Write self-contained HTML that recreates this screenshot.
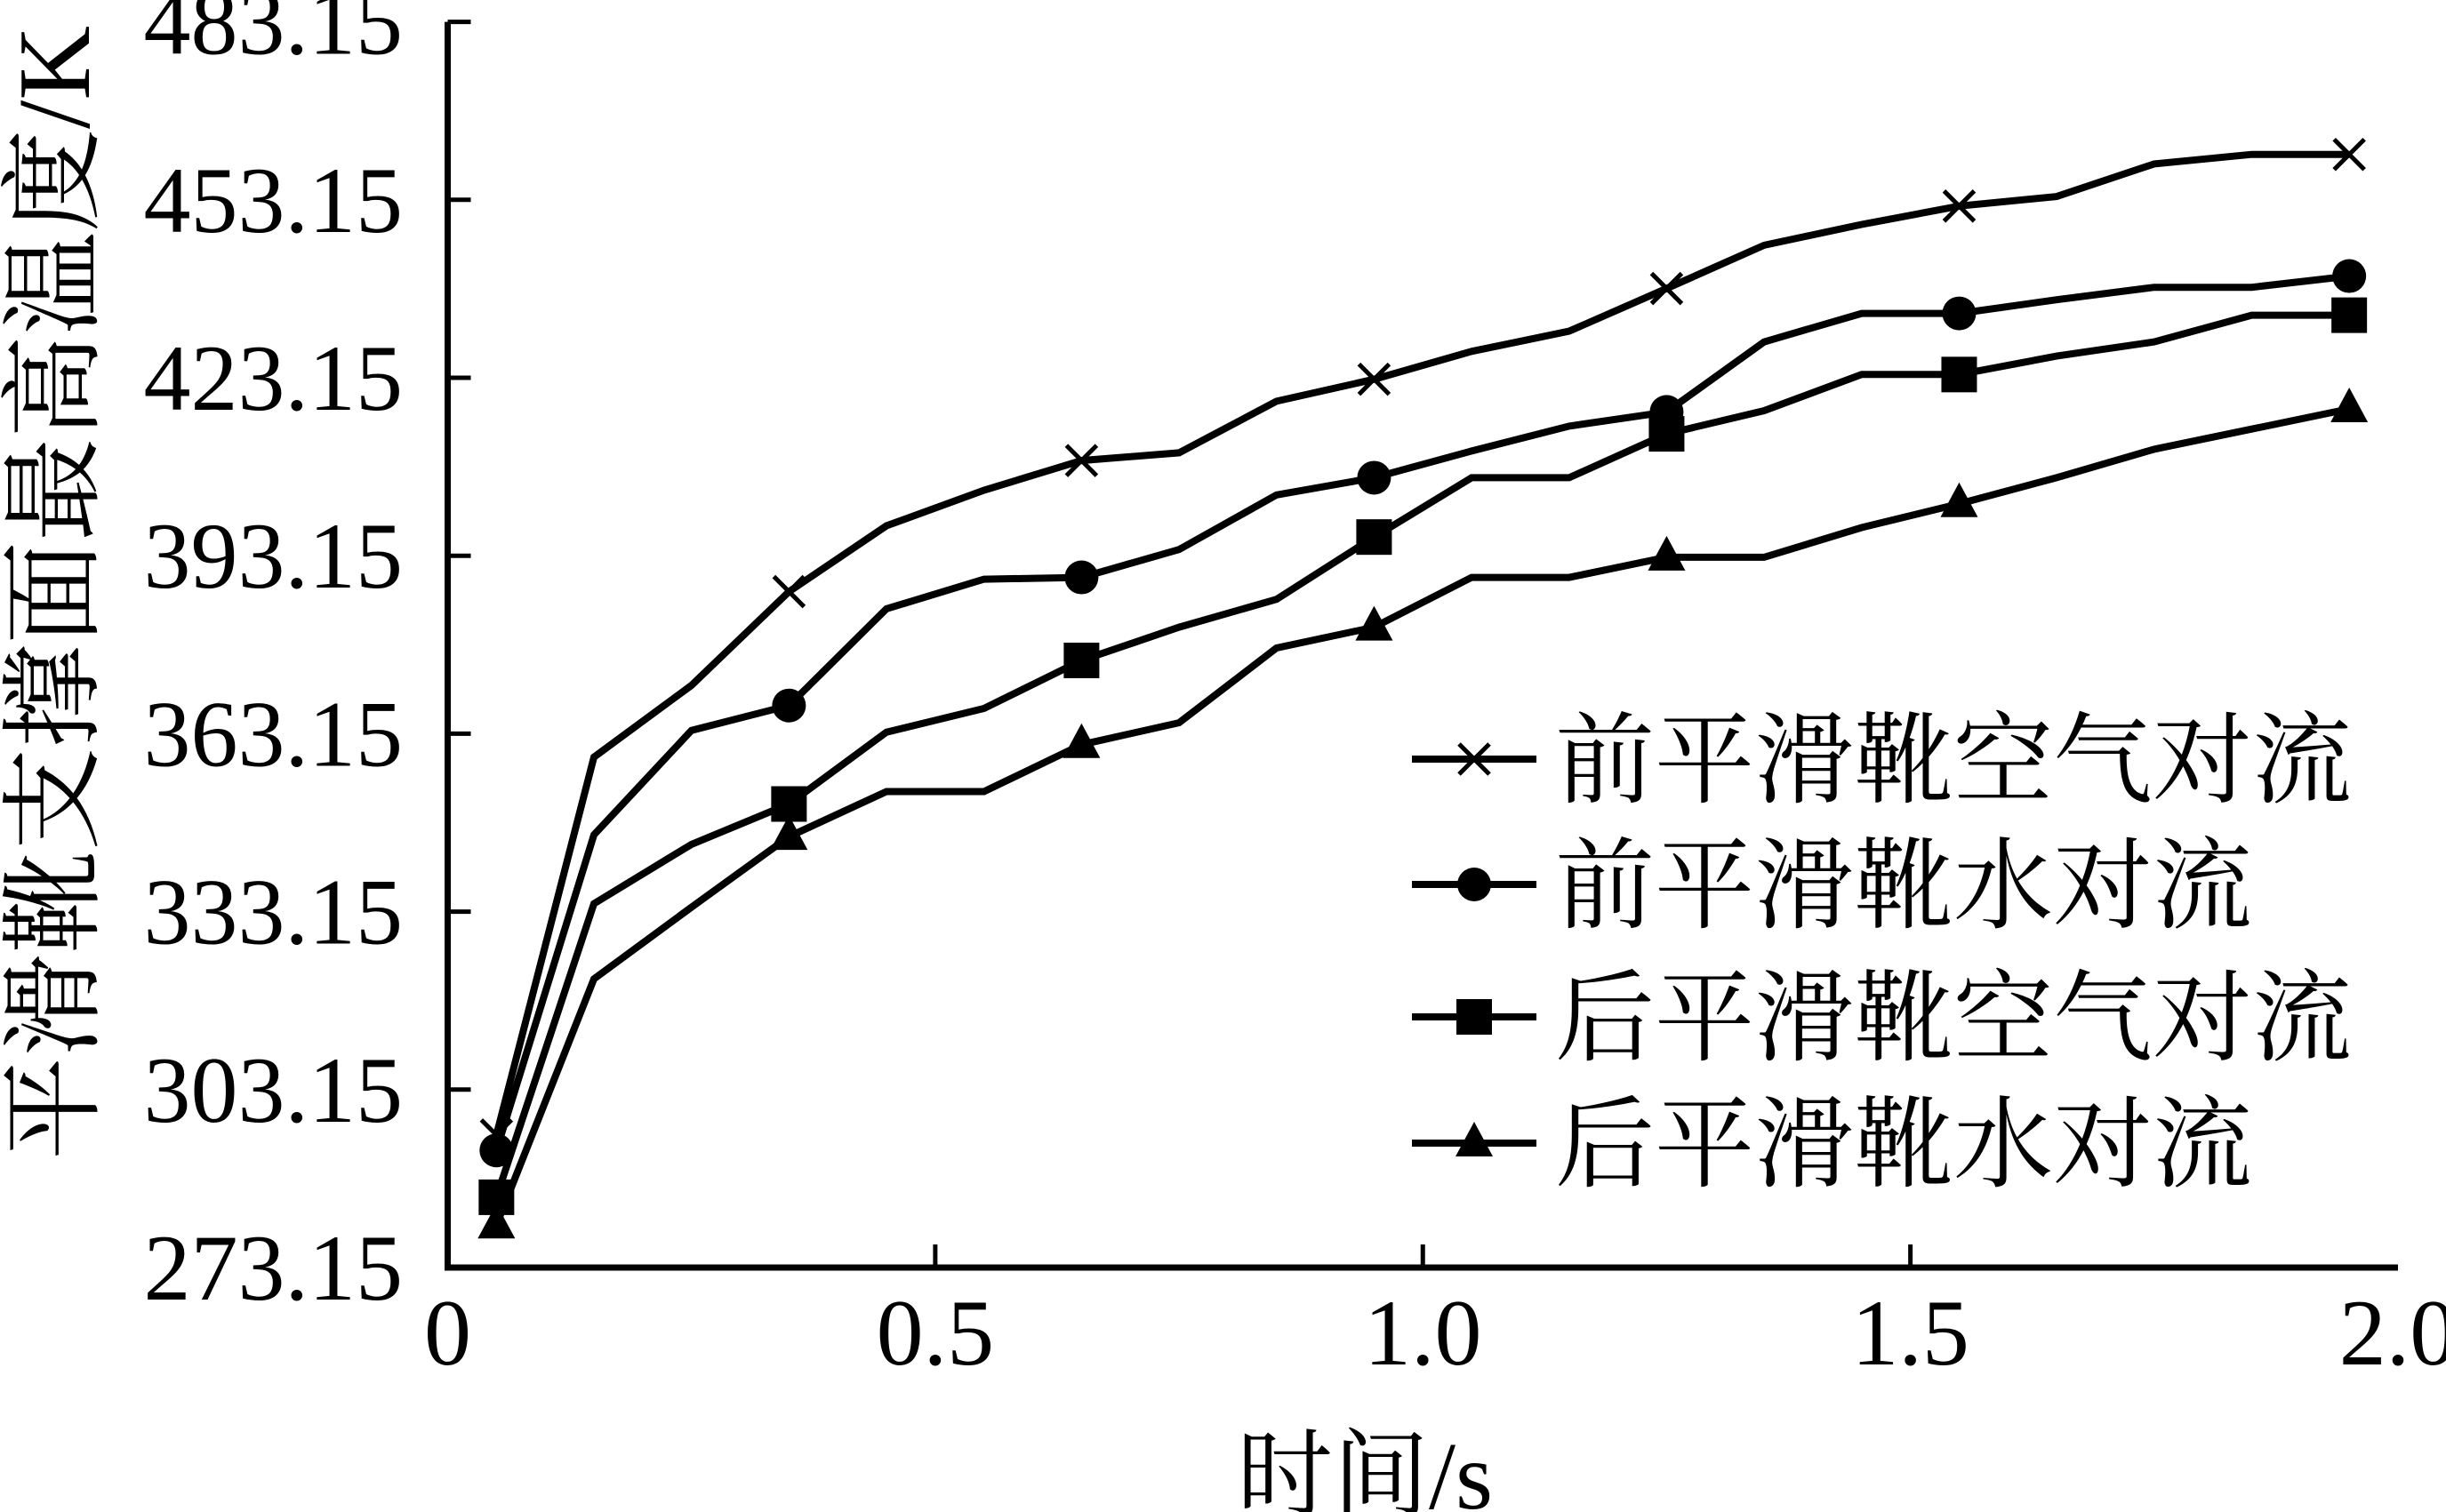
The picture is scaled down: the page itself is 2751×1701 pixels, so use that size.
<!DOCTYPE html>
<html><head><meta charset="utf-8"><style>
html,body{margin:0;padding:0;background:#fff;}
svg{display:block;}
text{font-family:"Liberation Serif","Noto Serif CJK SC",serif;fill:#000;}
</style></head><body>
<svg id="chart" width="2751" height="1701" viewBox="0 0 2751 1701" xmlns="http://www.w3.org/2000/svg"></svg>
<script>
const times = [0.05,0.15,0.25,0.35,0.45,0.55,0.65,0.75,0.85,0.95,1.05,1.15,1.25,1.35,1.45,1.55,1.65,1.75,1.85,1.95];
const seriesNames = ["前平滑靴空气对流","前平滑靴水对流","后平滑靴空气对流","后平滑靴水对流"];
const seriesFrontAir = [295.5,359.2,371.3,387.1,398.2,404.2,409.2,410.5,419.2,422.9,427.6,431.0,438.2,445.5,449.0,452.1,453.7,459.2,460.8,460.8];
const seriesFrontWater = [292.9,346.1,363.7,367.9,384.2,389.2,389.5,394.2,403.4,406.3,410.8,415.0,417.4,429.2,434.0,434.0,436.3,438.4,438.4,440.3];
const seriesRearAir = [285.0,334.5,344.5,351.3,363.4,367.4,375.5,381.1,385.8,396.3,406.3,406.3,413.7,417.6,423.7,423.7,426.8,429.2,433.7,433.7];
const seriesRearWater = [280.3,321.8,333.9,345.8,353.4,353.4,361.3,365.0,377.6,381.1,389.5,389.5,392.9,392.9,397.9,401.9,406.3,411.1,414.5,417.9];
const markerIndices = [0,3,6,9,12,15,19];
const yTicks = [273.15,303.15,333.15,363.15,393.15,423.15,453.15,483.15];
const yTickLabels = ["273.15","303.15","333.15","363.15","393.15","423.15","453.15","483.15"];
const xTicks = [0,0.5,1.0,1.5,2.0];
const xTickLabels = ["0","0.5","1.0","1.5","2.0"];

const NS="http://www.w3.org/2000/svg";
const svg=document.getElementById('chart');
const L=503.5,R=2697,T=24.6,B=1426;
const xs=v=>L+(v-0)/(2.0-0)*(R-L);
const ys=v=>B-(v-273.15)/(483.15-273.15)*(B-T);
function mk(tag,attrs,parent){const e=document.createElementNS(NS,tag);for(const k in attrs)e.setAttribute(k,attrs[k]);(parent||svg).appendChild(e);return e;}

const ax=mk('path',{d:`M${L},${T} L${L},${B} L${R},${B}`,fill:'none',stroke:'#000','stroke-width':7});



yTicks.forEach((v,i)=>{
  const y=ys(v);
  if(i>0){const t=mk('line',{x1:L,x2:L+26,y1:y,y2:y,stroke:'#000','stroke-width':5});
  
  }
  const tx=mk('text',{x:453,y:y+36,'text-anchor':'end','font-size':106});
  tx.textContent=yTickLabels[i];
  
  
});
xTicks.forEach((v,i)=>{
  const x=xs(v);
  if(i>0&&i<xTicks.length-1){const t=mk('line',{x1:x,x2:x,y1:B,y2:B-26,stroke:'#000','stroke-width':5});
  
  }
  const tx=mk('text',{x:x,y:1535,'text-anchor':'middle','font-size':106});
  tx.textContent=xTickLabels[i];
  
  
});
const xt=mk('text',{x:1535,y:1697,'text-anchor':'middle','font-size':108});
xt.textContent='时间/s';


const yt=mk('text',{x:0,y:0,'text-anchor':'middle','font-size':116,transform:'translate(100,667) rotate(-90)'});
yt.textContent='平滑靴支撑面最高温度/K';



function marker(type,x,y,g){
  let e;
  if(type===0){e=mk('path',{d:`M${x-17},${y-17}L${x+17},${y+17}M${x-17},${y+17}L${x+17},${y-17}`,stroke:'#000','stroke-width':5,fill:'none'},g);}
  else if(type===1){e=mk('circle',{cx:x,cy:y,r:19,fill:'#000'},g);}
  else if(type===2){e=mk('rect',{x:x-20,y:y-20,width:40,height:40,fill:'#000'},g);}
  else {e=mk('path',{d:`M${x},${y-24}L${x+21},${y+15}L${x-21},${y+15}Z`,fill:'#000'},g);}
  return e;
}
const allSeries=[seriesFrontAir,seriesFrontWater,seriesRearAir,seriesRearWater];
const sNames=['series-front-air','series-front-water','series-rear-air','series-rear-water'];
allSeries.forEach((data,s)=>{
  const g=mk('g',{});
  
  
  const d=data.map((v,i)=>(i?'L':'M')+xs(times[i]).toFixed(1)+','+ys(v).toFixed(1)).join('');
  const p=mk('path',{d:d,fill:'none',stroke:'#000','stroke-width':8,'stroke-linejoin':'miter'},g);
  
  
  markerIndices.forEach(i=>{
    const m=marker(s,xs(times[i]),ys(data[i]),g);
    
    
  });
});
const legY=[854,995,1144,1286];
const lg=mk('g',{});


seriesNames.forEach((n,s)=>{
  const y=legY[s];
  const l=mk('line',{x1:1588,x2:1728,y1:y,y2:y,stroke:'#000','stroke-width':8},lg);
  
  
  const m=marker(s,1658,y,lg);
  
  
  const t=mk('text',{x:1749,y:y+40,'font-size':112},lg);
  t.textContent=n;
  
  
});
</script>
</body></html>
